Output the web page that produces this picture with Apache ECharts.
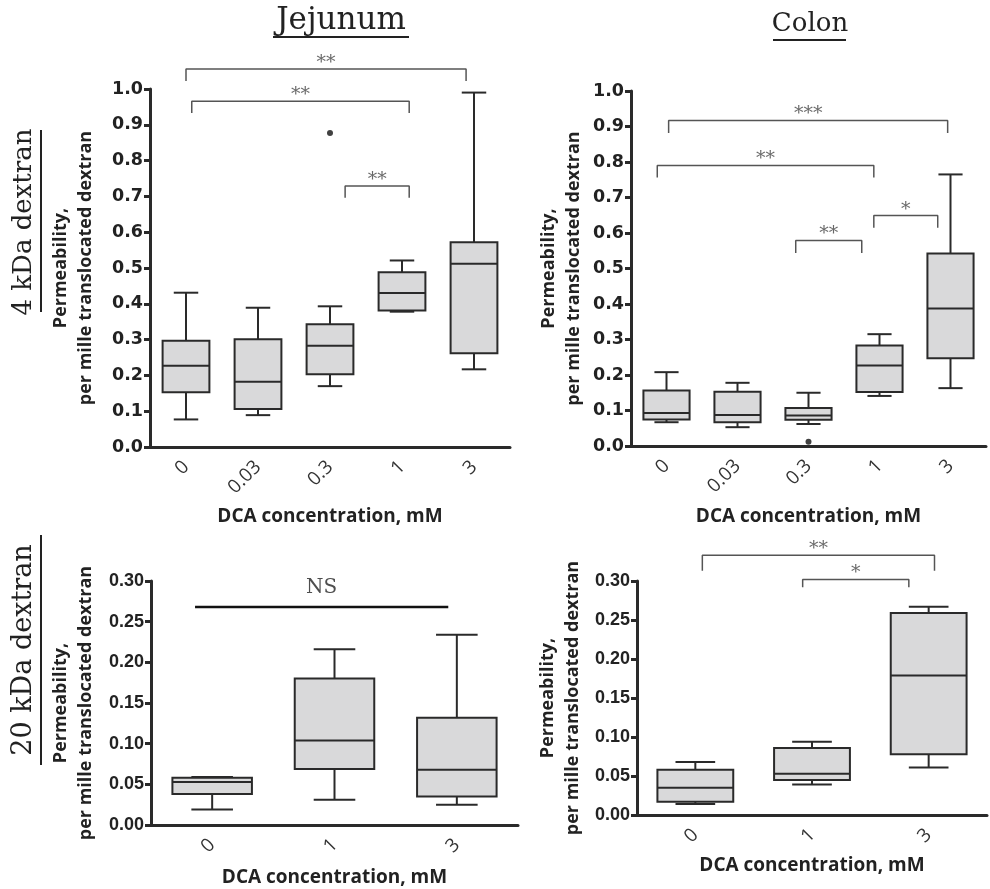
<!DOCTYPE html>
<html>
<head>
<meta charset="utf-8">
<script src="https://cdn.jsdelivr.net/npm/echarts@6/dist/echarts.min.js"></script>
<style>
  html, body { margin: 0; padding: 0; background: #fff; }
  #chart { width: 990px; height: 889px; }
</style>
</head>
<body>
<div id="chart"></div>
<script>
// DCA concentrations, mM
const dca4k = ['0', '0.03', '0.3', '1', '3'];
const dca20k = ['0', '1', '3'];

// box stats per group: [min, Q1, median, Q3, max]
const jejunum4k = [
  [0.077, 0.153, 0.227, 0.297, 0.431],
  [0.089, 0.106, 0.182, 0.301, 0.389],
  [0.170, 0.203, 0.283, 0.343, 0.393],
  [0.378, 0.381, 0.430, 0.488, 0.521],
  [0.217, 0.262, 0.512, 0.572, 0.990]
];
const colon4k = [
  [0.067, 0.075, 0.093, 0.156, 0.208],
  [0.053, 0.067, 0.087, 0.153, 0.178],
  [0.062, 0.074, 0.086, 0.107, 0.150],
  [0.141, 0.152, 0.227, 0.283, 0.315],
  [0.163, 0.247, 0.387, 0.542, 0.765]
];
const jejunum20k = [
  [0.019, 0.038, 0.053, 0.058, 0.059],
  [0.031, 0.069, 0.104, 0.180, 0.216],
  [0.025, 0.035, 0.068, 0.132, 0.234]
];
const colon20k = [
  [0.014, 0.017, 0.035, 0.058, 0.068],
  [0.039, 0.045, 0.053, 0.086, 0.094],
  [0.061, 0.078, 0.179, 0.259, 0.267]
];

// outliers: [group index, value]
const jejunum4kOutliers = [[2, 0.877]];
const colon4kOutliers = [[2, 0.012]];

// significance brackets: [from, to, bar level, leg end, label]  (x in group units)
const jejunum4kSig = [
  [0, 3.89, 1.056, 1.022, '**'],
  [0.08, 3.10, 0.966, 0.933, '**'],
  [2.21, 3.10, 0.729, 0.696, '**']
];
const colon4kSig = [
  [0.03, 3.96, 0.917, 0.882, '***'],
  [-0.13, 2.92, 0.790, 0.756, '**'],
  [1.82, 2.75, 0.579, 0.544, '**'],
  [2.92, 3.82, 0.649, 0.615, '*']
];
const jejunum20kSig = [
  [-0.14, 1.93, 0.268, 0.268, 'NS']
];
const colon20kSig = [
  [0.06, 2.05, 0.333, 0.313, '**'],
  [0.92, 1.83, 0.302, 0.292, '*']
];

const INK = '#2a2a2a';
const BOX_FILL = '#d9d9da';
const yName = 'Permeability,\nper mille translocated dextran';
const xName = 'DCA concentration, mM';

const chart = echarts.init(document.getElementById('chart'));

function renderBox(params, api) {
  const k = api.value(0);
  const band = api.size([1, 0])[0];
  const half = band * 0.325;
  const capHalf = band * 0.17;
  const pMin = api.coord([k, api.value(1)]);
  const yQ1 = api.coord([k, api.value(2)])[1];
  const yMed = api.coord([k, api.value(3)])[1];
  const yQ3 = api.coord([k, api.value(4)])[1];
  const yMax = api.coord([k, api.value(5)])[1];
  const cx = pMin[0], yMin = pMin[1];
  const st = { stroke: INK, lineWidth: 2 };
  return {
    type: 'group',
    children: [
      { type: 'line', shape: { x1: cx, y1: yMax, x2: cx, y2: yQ3 }, style: st },
      { type: 'line', shape: { x1: cx, y1: yQ1, x2: cx, y2: yMin }, style: st },
      { type: 'line', shape: { x1: cx - capHalf, y1: yMax, x2: cx + capHalf, y2: yMax }, style: st },
      { type: 'line', shape: { x1: cx - capHalf, y1: yMin, x2: cx + capHalf, y2: yMin }, style: st },
      { type: 'rect', shape: { x: cx - half, y: yQ3, width: half * 2, height: yQ1 - yQ3 },
        style: { fill: BOX_FILL, stroke: INK, lineWidth: 2 } },
      { type: 'line', shape: { x1: cx - half, y1: yMed, x2: cx + half, y2: yMed }, style: st }
    ]
  };
}

const grids = [], xAxes = [], yAxes = [], series = [];

function addPanel(i, cats, stats, outliers, sig, box, yMax, yStep, digits, gaps, tickFont) {
  grids.push(box);
  xAxes.push({
    type: 'category', gridIndex: i, data: cats,
    name: xName, nameLocation: 'middle', nameGap: gaps[0],
    nameTextStyle: { fontFamily: 'Open Sans', fontWeight: 'bold', fontSize: 19, color: '#222' },
    axisLine: { onZero: false, lineStyle: { color: INK, width: 3 } },
    axisTick: { alignWithLabel: true, length: 6, lineStyle: { color: INK, width: 3 } },
    axisLabel: { rotate: 45, margin: 17, fontFamily: 'Open Sans', fontSize: 19, color: '#333' },
    splitLine: { show: false }
  });
  xAxes.push({
    type: 'value', gridIndex: i, show: false,
    min: -0.5, max: cats.length - 0.5, splitLine: { show: false }
  });
  yAxes.push({
    type: 'value', gridIndex: i, min: 0, max: yMax, interval: yStep,
    name: yName, nameLocation: 'middle', nameGap: gaps[1], nameRotate: 90,
    nameTextStyle: { fontFamily: 'Open Sans', fontWeight: 'bold', fontSize: 18, lineHeight: 25, color: '#222' },
    axisLine: { show: true, onZero: false, lineStyle: { color: INK, width: 3 } },
    axisTick: { show: true, length: 6, lineStyle: { color: INK, width: 3 } },
    axisLabel: Object.assign({
      margin: 7, fontWeight: 'bold', color: '#222',
      formatter: v => v.toFixed(digits)
    }, tickFont),
    splitLine: { show: false }
  });

  series.push({
    type: 'custom', xAxisIndex: 2 * i, yAxisIndex: i,
    renderItem: renderBox,
    encode: { x: 0, y: [1, 2, 3, 4, 5] },
    data: stats.map((s, k) => [k].concat(s)),
    z: 3
  });
  if (outliers.length) {
    series.push({
      type: 'scatter', xAxisIndex: 2 * i, yAxisIndex: i,
      data: outliers, symbolSize: 6, itemStyle: { color: '#111' }, z: 4
    });
  }
  sig.forEach(b => {
    const ns = b[4] === 'NS';
    const pts = ns ? [[b[0], b[2]], [b[1], b[2]]]
                   : [[b[0], b[3]], [b[0], b[2]], [b[1], b[2]], [b[1], b[3]]];
    series.push({
      type: 'line', xAxisIndex: 2 * i + 1, yAxisIndex: i,
      data: pts, symbol: 'none', clip: false, silent: true,
      lineStyle: { color: ns ? '#111' : '#555', width: ns ? 2.5 : 1.5 }
    });
    series.push({
      type: 'scatter', xAxisIndex: 2 * i + 1, yAxisIndex: i,
      data: [[(b[0] + b[1]) / 2, b[2], b[4]]], symbolSize: 0, clip: false, silent: true,
      label: {
        show: true, position: 'inside', formatter: p => p.value[2],
        offset: [0, ns ? -19 : -6],
        fontFamily: 'DejaVu Serif', fontSize: ns ? 20 : 19, color: ns ? '#222' : '#444'
      }
    });
  });
}

const bigTicks = { fontFamily: 'DejaVu Sans', fontSize: 17.5 };
const smallTicks = { fontFamily: 'Liberation Sans', fontSize: 18 };

addPanel(0, dca4k, jejunum4k, jejunum4kOutliers, jejunum4kSig,
  { left: 150, top: 89, width: 360, height: 358 }, 1.0, 0.1, 1, [60, 52], bigTicks);
addPanel(1, dca4k, colon4k, colon4kOutliers, colon4kSig,
  { left: 631, top: 91, width: 355, height: 355 }, 1.0, 0.1, 1, [61, 45], bigTicks);
addPanel(2, dca20k, jejunum20k, [], jejunum20kSig,
  { left: 151, top: 581, width: 367, height: 244 }, 0.30, 0.05, 2, [43, 53], smallTicks);
addPanel(3, dca20k, colon20k, [], colon20kSig,
  { left: 637, top: 581, width: 350, height: 234 }, 0.30, 0.05, 2, [41, 52], smallTicks);

const serif = { fontFamily: 'DejaVu Serif', fill: '#222' };
const rule = { stroke: '#222', lineWidth: 2 };
function label(text, size) {
  return Object.assign({ text: text, fontSize: size, align: 'center', verticalAlign: 'middle' }, serif);
}

chart.setOption({
  animation: false,
  grid: grids,
  xAxis: xAxes,
  yAxis: yAxes,
  series: series,
  graphic: [
    { type: 'text', x: 341, y: 21, style: label('Jejunum', 31) },
    { type: 'line', shape: { x1: 273, y1: 37, x2: 409, y2: 37 }, style: rule },
    { type: 'text', x: 810, y: 24, style: label('Colon', 26) },
    { type: 'line', shape: { x1: 773, y1: 40, x2: 846, y2: 40 }, style: rule },
    { type: 'text', x: 24, y: 222, rotation: Math.PI / 2, style: label('4 kDa dextran', 26) },
    { type: 'line', shape: { x1: 41, y1: 130, x2: 41, y2: 312 }, style: rule },
    { type: 'text', x: 24, y: 650, rotation: Math.PI / 2, style: label('20 kDa dextran', 27) },
    { type: 'line', shape: { x1: 41, y1: 535, x2: 41, y2: 765 }, style: rule }
  ]
});
</script>
</body>
</html>
